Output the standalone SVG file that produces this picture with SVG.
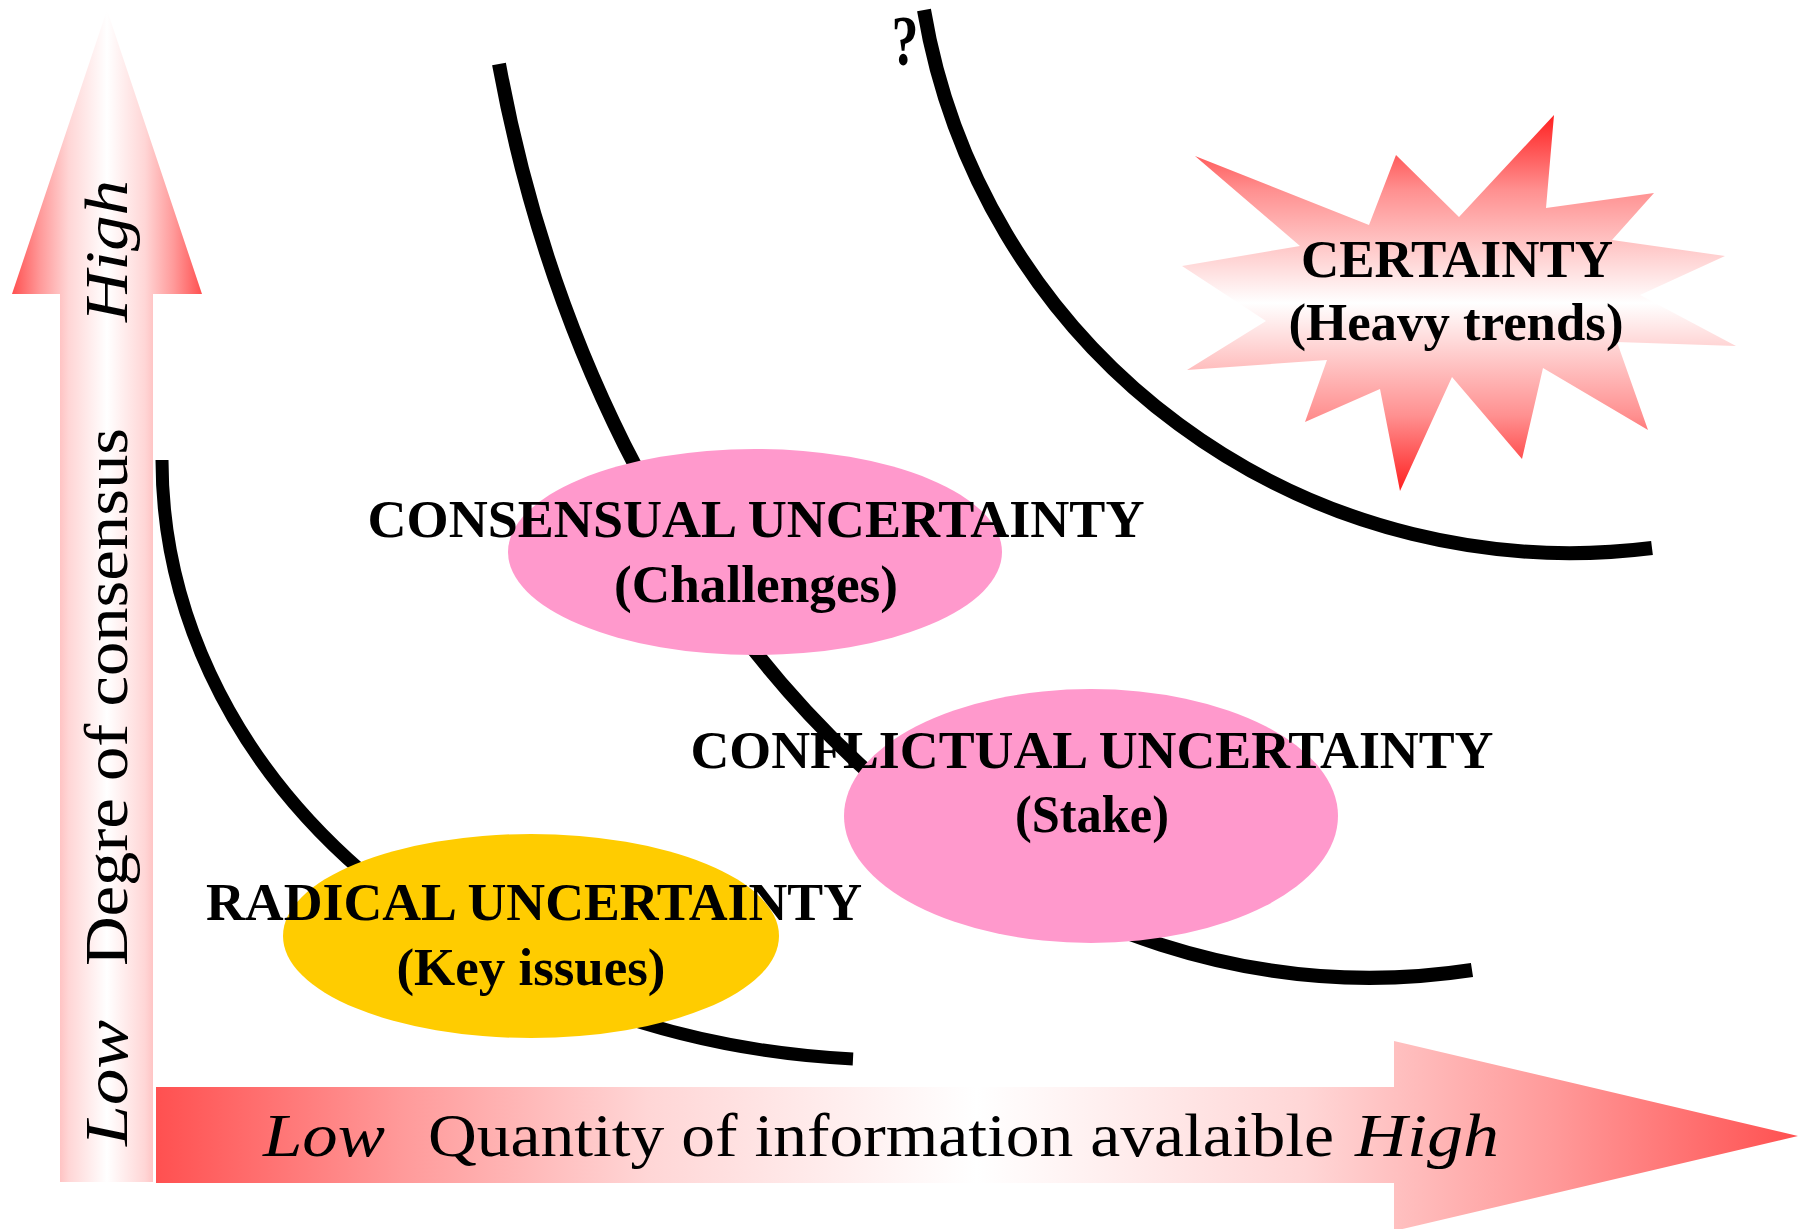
<svg xmlns="http://www.w3.org/2000/svg" width="1808" height="1229" viewBox="0 0 1808 1229">
  <defs>
    <linearGradient id="gV" gradientUnits="userSpaceOnUse" x1="12" y1="0" x2="202" y2="0">
      <stop offset="0" stop-color="#FF5050"/>
      <stop offset="0.15" stop-color="#FF9A9A"/>
      <stop offset="0.3" stop-color="#FFD6D6"/>
      <stop offset="0.5" stop-color="#FFFFFF"/>
      <stop offset="0.7" stop-color="#FFD6D6"/>
      <stop offset="0.85" stop-color="#FF9A9A"/>
      <stop offset="1" stop-color="#FF5050"/>
    </linearGradient>
    <linearGradient id="gH" gradientUnits="userSpaceOnUse" x1="156" y1="0" x2="1798" y2="0">
      <stop offset="0" stop-color="#FF5050"/>
      <stop offset="0.15" stop-color="#FF9A9A"/>
      <stop offset="0.3" stop-color="#FFD6D6"/>
      <stop offset="0.5" stop-color="#FFFFFF"/>
      <stop offset="0.7" stop-color="#FFD6D6"/>
      <stop offset="0.85" stop-color="#FF9A9A"/>
      <stop offset="1" stop-color="#FF5050"/>
    </linearGradient>
    <linearGradient id="gS" gradientUnits="userSpaceOnUse" x1="0" y1="115" x2="0" y2="491">
      <stop offset="0" stop-color="#FF2020"/>
      <stop offset="0.2" stop-color="#FF9090"/>
      <stop offset="0.5" stop-color="#FFFFFF"/>
      <stop offset="0.8" stop-color="#FF9090"/>
      <stop offset="1" stop-color="#FF2020"/>
    </linearGradient>
  </defs>
  <style>
    .curve { fill: none; stroke: #000000; }
    .lbl { font-family: "Liberation Serif", "Times New Roman", serif; font-weight: bold; font-size: 53px; fill: #000000; text-anchor: middle; }
    .qm { font-family: "Liberation Serif", "Times New Roman", serif; font-weight: bold; font-size: 72px; fill: #000000; text-anchor: middle; }
    .axis { font-family: "Liberation Serif", "Times New Roman", serif; font-size: 62px; fill: #000000; }
    .it { font-style: italic; }
    .pink { fill: #FF99CC; }
    .yellow { fill: #FFCC00; }
  </style>

  <g id="axis-y">
    <polygon points="60,1182 60,294 12,294 107,10 202,294 153,294 153,1182" fill="url(#gV)"/>
    <g transform="translate(127,1146) rotate(-90)">
      <text class="axis it" x="0" y="0" textLength="126" lengthAdjust="spacingAndGlyphs">Low</text>
      <text class="axis" x="180" y="0" textLength="538" lengthAdjust="spacingAndGlyphs">Degre of consensus</text>
      <text class="axis it" x="824" y="0" textLength="142" lengthAdjust="spacingAndGlyphs">High</text>
    </g>
  </g>

  <g id="axis-x">
    <polygon points="156,1087 1394,1087 1394,1041 1798,1136 1394,1231 1394,1183 156,1183" fill="url(#gH)"/>
    <text class="axis it" x="263" y="1156" textLength="122" lengthAdjust="spacingAndGlyphs">Low</text>
    <text class="axis" x="428" y="1156" textLength="906" lengthAdjust="spacingAndGlyphs">Quantity of information avalaible</text>
    <text class="axis it" x="1355" y="1156" textLength="144" lengthAdjust="spacingAndGlyphs">High</text>
  </g>

  <g id="curves">
    <path class="curve" stroke-width="13" d="M162,460 A735,600 0 0 0 853,1059"/>
    <path class="curve" stroke-width="14" d="M499,64 A897,1200 0 0 0 1472,970"/>
    <path class="curve" stroke-width="14" d="M924,10 A655,650 0 0 0 1652,548"/>
  </g>

  <g id="question-mark">
    <text class="qm" transform="translate(905,65) scale(0.75,1)" x="0" y="0">?</text>
  </g>

  <g id="certainty">
    <polygon fill="url(#gS)" points="1195,156 1369,225 1396,155 1459,217 1554,115 1546,208 1654,193 1612,240 1725,256 1640,295 1736,346 1617,342 1648,430 1543,368 1522,459 1452,377 1400,491 1380,389 1305,422 1327,360 1187,370 1266,321 1182,266 1300,246"/>
    <text class="lbl" x="1457" y="277" textLength="312" lengthAdjust="spacingAndGlyphs">CERTAINTY</text>
    <text class="lbl" x="1456" y="340" textLength="335" lengthAdjust="spacingAndGlyphs">(Heavy trends)</text>
  </g>

  <g id="consensual">
    <ellipse class="pink" cx="755" cy="552" rx="247" ry="103"/>
    <text class="lbl" x="756" y="537" textLength="777" lengthAdjust="spacingAndGlyphs">CONSENSUAL UNCERTAINTY</text>
    <text class="lbl" x="756" y="602" textLength="284" lengthAdjust="spacingAndGlyphs">(Challenges)</text>
  </g>

  <g id="conflictual">
    <ellipse class="pink" cx="1091" cy="816" rx="247" ry="127"/>
    <text class="lbl" x="1092" y="768" textLength="803" lengthAdjust="spacingAndGlyphs">CONFLICTUAL UNCERTAINTY</text>
    <text class="lbl" x="1092" y="832" textLength="154" lengthAdjust="spacingAndGlyphs">(Stake)</text>
  </g>

  <g id="radical">
    <ellipse class="yellow" cx="531" cy="936" rx="248" ry="102"/>
    <text class="lbl" x="534" y="920" textLength="656" lengthAdjust="spacingAndGlyphs">RADICAL UNCERTAINTY</text>
    <text class="lbl" x="531" y="985" textLength="269" lengthAdjust="spacingAndGlyphs">(Key issues)</text>
  </g>
</svg>
